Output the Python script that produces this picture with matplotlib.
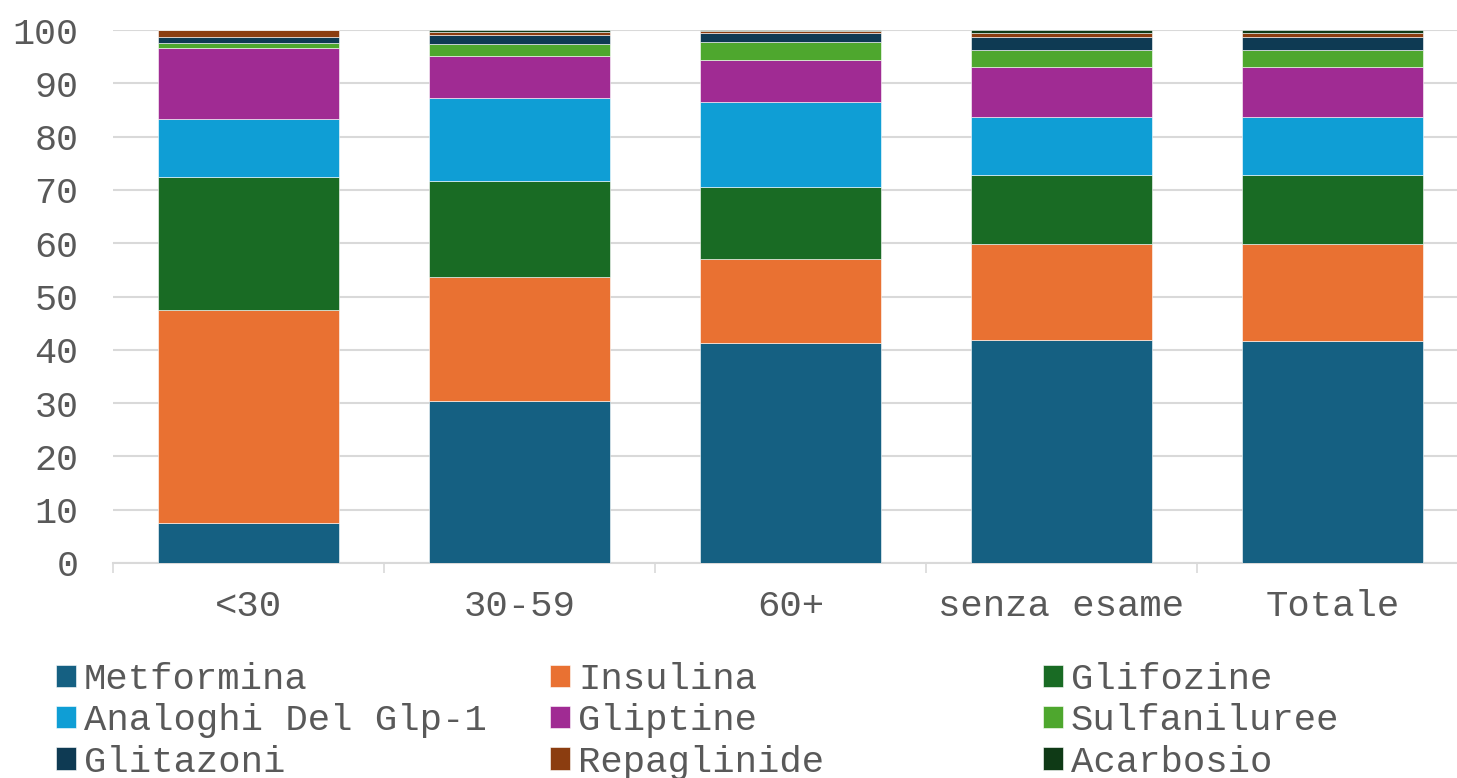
import matplotlib.pyplot as plt
import numpy as np

plt.rcParams['font.family'] = ['Liberation Mono', 'DejaVu Sans Mono']

# share of each drug class by group (%)
categories = ['<30', '30-59', '60+', 'senza esame', 'Totale']
series_names = ['Metformina', 'Insulina', 'Glifozine',
                'Analoghi Del Glp-1', 'Gliptine', 'Sulfaniluree',
                'Glitazoni', 'Repaglinide', 'Acarbosio']
metformina = [7.5, 30.4, 41.3, 41.8, 41.6]
insulina = [40.0, 23.3, 15.7, 18.0, 18.2]
glifozine = [24.9, 18.0, 13.5, 13.0, 13.0]
analoghi = [10.9, 15.5, 16.0, 10.9, 10.9]
gliptine = [13.4, 8.0, 7.8, 9.3, 9.4]
sulfaniluree = [0.9, 2.2, 3.4, 3.3, 3.2]
glitazoni = [1.0, 1.7, 1.7, 2.4, 2.4]
repaglinide = [1.4, 0.6, 0.4, 0.7, 0.7]
acarbosio = [0.0, 0.3, 0.2, 0.6, 0.6]
yticks = [0, 10, 20, 30, 40, 50, 60, 70, 80, 90, 100]

series = [metformina, insulina, glifozine, analoghi, gliptine,
          sulfaniluree, glitazoni, repaglinide, acarbosio]
colors = ['#156082', '#E97132', '#196B24', '#0F9ED5', '#A02B93',
          '#4EA72E', '#0E3A53', '#8B3D10', '#0F3A16']
text_col = '#595959'

fig = plt.figure(figsize=(14.57, 7.78), dpi=100)
ax = fig.add_axes([113 / 1457, 215 / 778, 1355 / 1457, 533 / 778])

x = np.arange(len(categories))
bottom = np.zeros(len(categories))
handles = []
for name, vals, c in zip(series_names, series, colors):
    b = ax.bar(x, vals, 0.665, bottom=bottom, color=c, label=name,
               edgecolor='white', linewidth=0.4, zorder=3)
    handles.append(b)
    bottom += np.array(vals)

ax.set_xlim(-0.5, 4.5)
ax.set_ylim(0, 100)
ax.set_yticks(yticks)
ax.yaxis.grid(True, color='#D9D9D9', linewidth=1.5, zorder=0)
ax.tick_params(axis='y', length=0, pad=25, labelsize=26.5, labelcolor=text_col)

ax.set_xticks(x)
ax.set_xticklabels(categories)
ax.set_xticks(np.arange(-0.5, 5, 1), minor=True)
ax.tick_params(axis='x', which='major', length=0, pad=18.5, labelsize=26.8,
               labelcolor=text_col)
ax.tick_params(axis='x', which='minor', length=7.5, width=1.2, color='#D9D9D9')

for s in ['top', 'right', 'left']:
    ax.spines[s].set_visible(False)
ax.spines['bottom'].set_color('#D9D9D9')
ax.spines['bottom'].set_linewidth(1.5)

# legend laid out in three columns, filled row by row
col_x = [56 / 1457, 550 / 1457, 1043 / 1457]
for j in range(3):
    items = [handles[j + 3 * i] for i in range(3)]
    leg = fig.legend(items, [h.get_label() for h in items],
                     loc='upper left', bbox_to_anchor=(col_x[j], 116 / 778),
                     frameon=False, fontsize=26.8, handlelength=0.55,
                     handleheight=0.55, handletextpad=0.2, labelspacing=0.17,
                     borderpad=0, borderaxespad=0)
    for t in leg.get_texts():
        t.set_color(text_col)

fig.savefig('out.png', dpi=100)
